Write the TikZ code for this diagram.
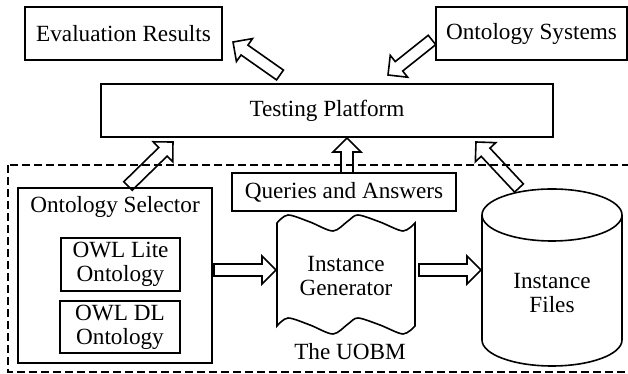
\documentclass[tikz,border=0pt]{standalone}
\usepackage{fontspec}
\setmainfont{Liberation Serif}
\usepackage{tikz}
\usetikzlibrary{calc}

\begin{document}
\begin{tikzpicture}[x=0.5pt, y=0.5pt]
        \tikzstyle{every node}=[font=\fontsize{11.6}{12}\selectfont, align=center]
        \tikzstyle{box}=[draw, line width=0.8pt, inner sep=0pt]
        \tikzstyle{fat}=[draw, line width=0.8pt, to path={let \p1=(\tikztostart), \p2=(\tikztotarget), \n1={atan2(\y2-\y1,\x2-\x1)}, \n2={veclen(\x2-\x1,\y2-\y1)} in {[shift={(\p1)}, rotate=\n1] (0pt,-3pt) -- (\n2-7pt,-3pt) -- (\n2-7pt,-7pt) -- (\n2,0pt) -- (\n2-7pt,7pt) -- (\n2-7pt,3pt) -- (0pt,3pt) -- cycle}}]
        \useasboundingbox (0,0) rectangle (628,374);
        \node[box, minimum width=98.5pt, minimum height=26.5pt] (results) at (123.5,340.5) {Evaluation Results};
        \node[box, minimum width=95.5pt, minimum height=26.5pt] (systems) at (531.5,340.5) {Ontology Systems};
        \node[box, minimum width=226pt, minimum height=26.5pt] (platform) at (327,263.5) {Testing Platform};
        \draw[line width=0.9pt, dash pattern=on 3.8pt off 2.2pt] (8,209) rectangle (634,2);
        \node[box, minimum width=97pt, minimum height=87.5pt] (selector) at (115,98.5) {};
        \node[anchor=base] (sellabel) at (115,161) {Ontology Selector};
        \node[box, minimum width=59.5pt, minimum height=26.5pt] (lite) at (120.5,109.5) {OWL Lite\\Ontology};
        \node[box, minimum width=60pt, minimum height=26pt] (dl) at (120,47) {OWL DL\\Ontology};
        \node[box, minimum width=112pt, minimum height=19pt] (queries) at (344,182) {Queries and Answers};
        \node (generator) at (346,97.5) {Instance\\Generator};
        \node[anchor=base] (uobm) at (350,14) {The UOBM};
        \node (files) at (552,81) {Instance\\Files};
        \draw[line width=0.8pt] plot[smooth] coordinates {(277,151) (288,159) (310,152) (333,143) (348,153) (358,159) (380,152) (403,143) (415,151)}
            -- plot[smooth] coordinates {(415,48) (403,40) (380,49) (358,56) (348,50) (333,40) (310,49) (288,56) (277,48)} -- cycle;
        \draw[line width=0.8pt] (482,159) -- (482,34) arc[start angle=180, end angle=360, x radius=35pt, y radius=13pt] -- (622,159);
        \draw[line width=0.8pt] (552,159) ellipse [x radius=35pt, y radius=13pt];
        \coordinate (plat-out) at (280,299);
        \coordinate (res-in) at (233,332);
        \coordinate (sys-out) at (432,334);
        \coordinate (plat-in1) at (388,299);
        \coordinate (sel-up) at (128,188);
        \coordinate (plat-in2) at (173,232);
        \coordinate (qa-up) at (347,201);
        \coordinate (plat-in3) at (347,236);
        \coordinate (files-up) at (519,186);
        \coordinate (plat-in4) at (476,232);
        \coordinate (sel-out) at (214,104);
        \coordinate (gen-in) at (276,104);
        \coordinate (gen-out) at (419,104);
        \coordinate (files-in) at (481,104);
        \draw[fat] (plat-out) to (res-in);
        \draw[fat] (sys-out) to (plat-in1);
        \draw[fat] (sel-up) to (plat-in2);
        \draw[fat] (qa-up) to (plat-in3);
        \draw[fat] (files-up) to (plat-in4);
        \draw[fat] (sel-out) to (gen-in);
        \draw[fat] (gen-out) to (files-in);
    \end{tikzpicture}
\end{document}
